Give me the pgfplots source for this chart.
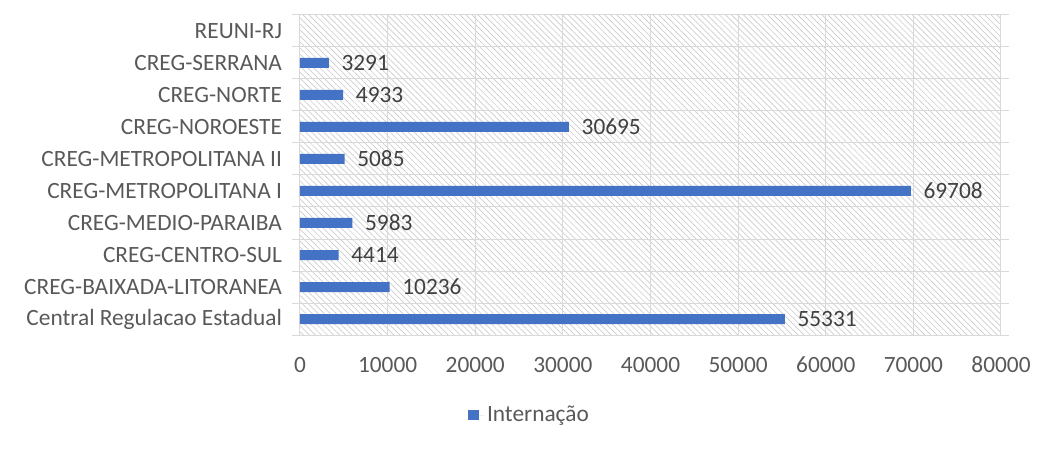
\documentclass[border=0pt]{standalone}
\usepackage{pgfplots}
\pgfplotsset{compat=1.18}
\usepackage{fontspec}
\setmainfont{Carlito}
\usetikzlibrary{patterns.meta}
\definecolor{barblue}{HTML}{4472C4}
\definecolor{txt}{HTML}{595959}
\definecolor{gridc}{HTML}{D9D9D9}
\newcommand\lblfont{\fontsize{17.5}{20}\selectfont}

\begin{document}
\begin{tikzpicture}
\begin{axis}[
    xbar,
    scale only axis,
    width=525.75pt, height=240pt,
    xmin=0, xmax=80000,
    ymin=-0.5, ymax=9.5,
    xtick={0,10000,...,80000},
    scaled x ticks=false,
    ytick={0,...,9},
    yticklabels={Central Regulacao Estadual,CREG-BAIXADA-LITORANEA,CREG-CENTRO-SUL,CREG-MEDIO-PARAIBA,CREG-METROPOLITANA I,CREG-METROPOLITANA II,CREG-NOROESTE,CREG-NORTE,CREG-SERRANA,REUNI-RJ},
    minor ytick={-0.5,0.5,...,9.5},
    xmajorgrids, yminorgrids,
    major grid style={gridc, line width=0.75pt},
    minor grid style={gridc, line width=0.75pt},
    major tick length=0pt,
    minor tick length=6pt,
    tick align=outside,
    minor tick style={gridc, line width=0.75pt},
    axis line style={gridc, line width=0.75pt},
    axis background/.style={pattern={Lines[angle=-45, distance=3.2pt, line width=0.5pt]}, pattern color=gray!40},
    /pgf/number format/1000 sep={},
    /pgf/number format/assume math mode=true,
    tick label style={font=\lblfont, text=txt},
    xticklabel style={yshift=-13pt},
    yticklabel style={xshift=-10pt},
    bar width=7.5pt,
    nodes near coords,
    nodes near coords style={anchor=west, xshift=6pt, font=\lblfont, text=black!75},
    legend style={draw=none, fill=none, at={(0.328,-0.25)}, anchor=center,
        font=\lblfont, text=txt},
]
\addplot[fill=barblue, draw=none,
    legend image code/.code={\fill[barblue] (0pt,-4pt) rectangle (8pt,4pt); \path (0pt,0pt) -- (12pt,0pt);}]
    coordinates {
    (55331,0) (10236,1) (4414,2) (5983,3) (69708,4)
    (5085,5) (30695,6) (4933,7) (3291,8)
    };
\addlegendentry{Internação}
\coordinate (o) at (rel axis cs:0,0);
\end{axis}
\pgfresetboundingbox
\path[use as bounding box] ([xshift=-225pt,yshift=-89.25pt]o) rectangle ([xshift=570pt,yshift=251.25pt]o);
\end{tikzpicture}
\end{document}
